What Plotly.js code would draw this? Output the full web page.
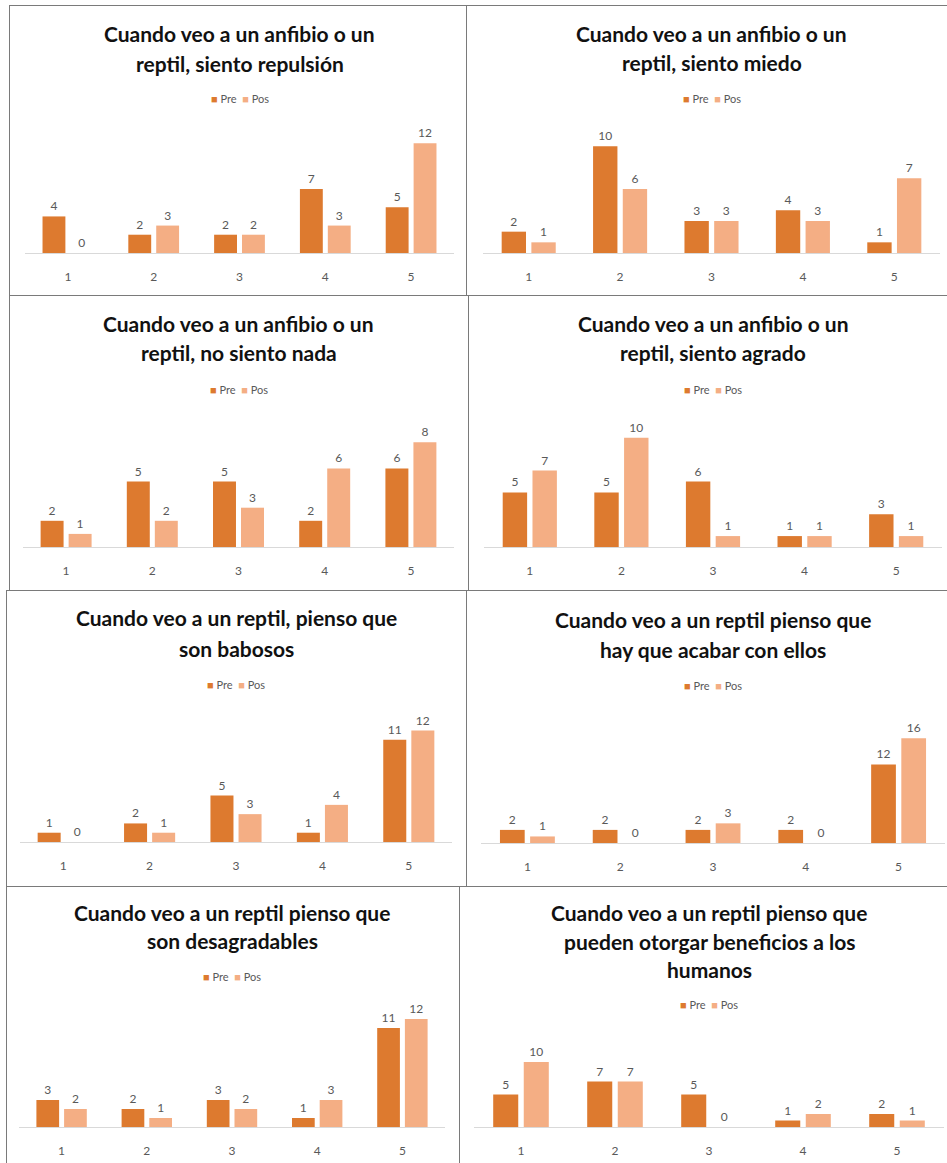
<!DOCTYPE html>
<html>
<head>
<meta charset="utf-8">
<script src="https://cdn.plot.ly/plotly-3.0.1.min.js"></script>
<style>
  html, body { margin: 0; padding: 0; background: #ffffff; }
  body { position: relative; width: 947px; height: 1163px; overflow: hidden; }
  .panel { position: absolute; outline: 1px solid #7a7a7a; background: #ffffff; }
</style>
</head>
<body>
<div id="wrap"></div>
<script>
// ---- data ----
const categories = ['1', '2', '3', '4', '5'];
const seriesNames = ['Pre', 'Pos'];

const titleRepulsion = ['Cuando veo a un anfibio o un', 'reptil, siento repulsión'];
const preRepulsion = [4, 2, 2, 7, 5];
const posRepulsion = [0, 3, 2, 3, 12];

const titleMiedo = ['Cuando veo a un anfibio o un', 'reptil, siento miedo'];
const preMiedo = [2, 10, 3, 4, 1];
const posMiedo = [1, 6, 3, 3, 7];

const titleNada = ['Cuando veo a un anfibio o un', 'reptil, no siento nada'];
const preNada = [2, 5, 5, 2, 6];
const posNada = [1, 2, 3, 6, 8];

const titleAgrado = ['Cuando veo a un anfibio o un', 'reptil, siento agrado'];
const preAgrado = [5, 5, 6, 1, 3];
const posAgrado = [7, 10, 1, 1, 1];

const titleBabosos = ['Cuando veo a un reptil, pienso que', 'son babosos'];
const preBabosos = [1, 2, 5, 1, 11];
const posBabosos = [0, 1, 3, 4, 12];

const titleAcabar = ['Cuando veo a un reptil pienso que', 'hay que acabar con ellos'];
const preAcabar = [2, 2, 2, 2, 12];
const posAcabar = [1, 0, 3, 0, 16];

const titleDesagradables = ['Cuando veo a un reptil pienso que', 'son desagradables'];
const preDesagradables = [3, 2, 3, 1, 11];
const posDesagradables = [2, 1, 2, 3, 12];

const titleBeneficios = ['Cuando veo a un reptil pienso que', 'pueden otorgar beneficios a los', 'humanos'];
const preBeneficios = [5, 7, 5, 1, 2];
const posBeneficios = [10, 7, 0, 2, 1];

// ---- styling ----
const PRE_COLOR = '#DD7A2F';
const POS_COLOR = '#F4AE84';
const FONT = 'Lato, "Open Sans", sans-serif';

// Panel frames and plot areas (page pixels): box = [x, y, w, h], plot = [left, right, top, bottom]
const panels = [
  { title: titleRepulsion, pre: preRepulsion, pos: posRepulsion, ymax: 14,
    box: [10, 6, 457, 289], plot: [25, 454, 125, 253], titleY: [33, 63], legendY: 98 },
  { title: titleMiedo, pre: preMiedo, pos: posMiedo, ymax: 12,
    box: [467, 6, 490, 290], plot: [483, 940, 125, 253], titleY: [33, 62], legendY: 98 },
  { title: titleNada, pre: preNada, pos: posNada, ymax: 10,
    box: [10, 296, 459, 294], plot: [23, 454, 416, 547], titleY: [323, 352], legendY: 389 },
  { title: titleAgrado, pre: preAgrado, pos: posAgrado, ymax: 12,
    box: [469, 296, 488, 294], plot: [484, 942, 416, 547], titleY: [323, 352], legendY: 389 },
  { title: titleBabosos, pre: preBabosos, pos: posBabosos, ymax: 14,
    box: [7, 591, 460, 295], plot: [20, 452, 712, 842], titleY: [618, 648], legendY: 684 },
  { title: titleAcabar, pre: preAcabar, pos: posAcabar, ymax: 20,
    box: [467, 591, 490, 295], plot: [481, 945, 712, 843], titleY: [620, 649], legendY: 686 },
  { title: titleDesagradables, pre: preDesagradables, pos: posDesagradables, ymax: 14,
    box: [7, 887, 453, 290], plot: [19, 445, 1001, 1127], titleY: [912, 941], legendY: 976 },
  { title: titleBeneficios, pre: preBeneficios, pos: posBeneficios, ymax: 12,
    box: [460, 887, 497, 290], plot: [474, 944, 1049, 1127], titleY: [912, 941, 969], legendY: 1004 }
];

const wrap = document.getElementById('wrap');

panels.forEach((p, i) => {
  const [bx, by, bw, bh] = p.box;
  const [pl, pr, pt, pb] = p.plot;
  const div = document.createElement('div');
  div.className = 'panel';
  div.id = 'panel' + i;
  div.style.left = bx + 'px';
  div.style.top = by + 'px';
  div.style.width = bw + 'px';
  div.style.height = bh + 'px';
  wrap.appendChild(div);

  const plotH = pb - pt;
  const toPaperY = (yAbs) => (pb - yAbs) / plotH;

  const mkTrace = (vals, name, color) => ({
    type: 'bar',
    x: categories,
    y: vals,
    name: name,
    marker: { color: color },
    text: vals.map(String),
    textposition: 'outside',
    cliponaxis: false,
    textfont: { family: FONT, size: 12, color: '#595959' },
    hoverinfo: 'none'
  });

  const annotations = [];
  p.title.forEach((line, k) => {
    annotations.push({
      xref: 'paper', yref: 'paper', x: 0.5, y: toPaperY(p.titleY[k]),
      xanchor: 'center', yanchor: 'middle', showarrow: false,
      text: '<b>' + line + '</b>',
      font: { family: FONT, size: 21, color: '#111111' }
    });
  });
  // legend row: coloured squares followed by series names
  const legendText =
    '<span style="color:' + PRE_COLOR + '">■</span> ' + seriesNames[0] +
    '  <span style="color:' + POS_COLOR + '">■</span> ' + seriesNames[1];
  annotations.push({
    xref: 'paper', yref: 'paper', x: 0.5, y: toPaperY(p.legendY),
    xanchor: 'center', yanchor: 'middle', showarrow: false,
    text: legendText,
    font: { family: FONT, size: 11, color: '#595959' }
  });

  const layout = {
    width: bw, height: bh,
    margin: { l: pl - bx, r: bx + bw - pr, t: pt - by, b: by + bh - pb, pad: 0 },
    paper_bgcolor: '#ffffff', plot_bgcolor: '#ffffff',
    showlegend: false,
    barmode: 'group',
    bargap: 0.35,
    bargroupgap: 0.18,
    font: { family: FONT, color: '#595959' },
    xaxis: {
      type: 'category',
      showline: true, linecolor: '#D9D9D9', linewidth: 1,
      showgrid: false, zeroline: false,
      ticks: 'outside', ticklen: 13, tickcolor: 'rgba(0,0,0,0)',
      tickfont: { family: FONT, size: 12, color: '#595959' },
      fixedrange: true
    },
    yaxis: {
      visible: false, range: [0, p.ymax], showgrid: false, zeroline: false, fixedrange: true
    },
    annotations: annotations
  };

  Plotly.newPlot(div, [
    mkTrace(p.pre, seriesNames[0], PRE_COLOR),
    mkTrace(p.pos, seriesNames[1], POS_COLOR)
  ], layout, { staticPlot: true, displayModeBar: false });
});
</script>
</body>
</html>
